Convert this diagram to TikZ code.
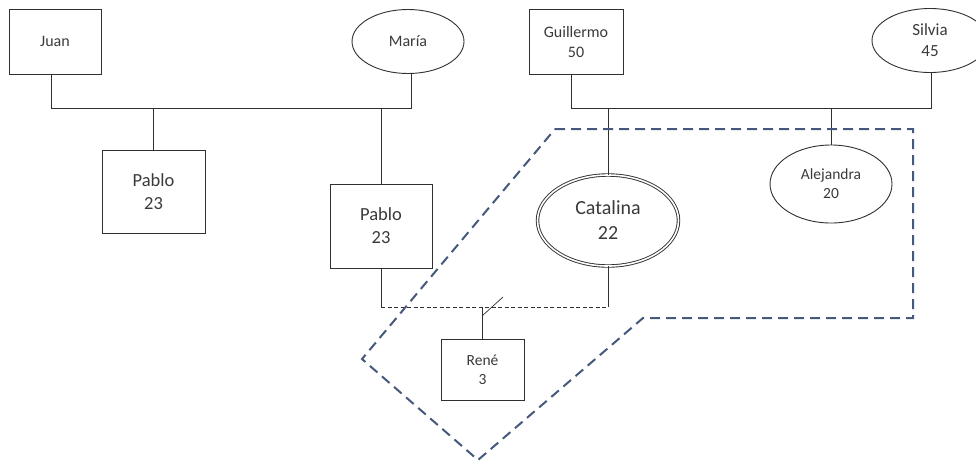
\documentclass[tikz,border=0pt]{standalone}
\usepackage{fontspec}
\usetikzlibrary{shapes.geometric}
\setmainfont{Carlito}
\definecolor{inkline}{HTML}{303030}
\definecolor{inktext}{HTML}{3A3A3A}
\definecolor{groupblue}{HTML}{46597C}
\begin{document}
\begin{tikzpicture}[x=1pt,y=-1pt,
  every node/.style={text=inktext, align=center, inner sep=0pt},
  person/.style={draw=inkline, line width=0.9pt, rectangle},
  woman/.style={draw=inkline, line width=0.9pt, ellipse},
  kin/.style={draw=inkline, line width=0.9pt},
  union/.style={draw=inkline, line width=0.9pt, dash pattern=on 4pt off 2.5pt},
  groupline/.style={draw=groupblue, line width=2pt, dash pattern=on 10pt off 6pt},
  fs/.style n args={2}{font=\fontsize{#1}{#2}\selectfont}
]
\useasboundingbox (0,0) rectangle (976,464);
\fill[white] (0,0) rectangle (976,464);

% generation 1
\node[person, minimum width=92pt, minimum height=65pt, fs={16}{20}] (juan) at (55,41.5) {Juan};
\node[woman, minimum width=112pt, minimum height=64pt, fs={16}{20}] (maria) at (408,41.5) {María};
\node[person, minimum width=94pt, minimum height=65pt, fs={16}{20}] (guillermo) at (576,41.5) {Guillermo\\50};
\node[woman, minimum width=116pt, minimum height=64pt, fs={17}{21}] (silvia) at (930,40.5) {Silvia\\45};

% generation 2
\node[person, minimum width=103pt, minimum height=83pt, fs={18.5}{23}] (pablo1) at (153.5,191.5) {Pablo\\23};
\node[person, minimum width=102pt, minimum height=84pt, fs={18.5}{23}] (pablo2) at (381,226) {Pablo\\23};
\node[woman, double, double distance=1.6pt, minimum width=141pt, minimum height=91pt, fs={20}{25}] (catalina) at (608,220.5) {Catalina\\22};
\node[woman, minimum width=122pt, minimum height=78pt, fs={15.5}{19}] (alejandra) at (831,184) {Alejandra\\20};

% generation 3
\node[person, minimum width=83pt, minimum height=61pt, fs={15.5}{19}] (rene) at (482.5,369.5) {René\\3};

% couple lines
\coordinate (jmL) at (51,108);
\coordinate (jmR) at (411,108);
\coordinate (gsL) at (571,108);
\coordinate (gsR) at (931,108);
\draw[kin] (juan.south -| jmL) -- (jmL) -- (jmR) -- (maria.south -| jmR);
\draw[kin] (guillermo.south -| gsL) -- (gsL) -- (gsR) -- (silvia.south -| gsR);

% children
\draw[kin] (pablo1.north) -- (pablo1.north |- jmL);
\draw[kin] (pablo2.north) -- (pablo2.north |- jmL);
\draw[kin] (catalina.north) -- (catalina.north |- gsL);
\draw[kin] (alejandra.north) -- (alejandra.north |- gsL);

% Pablo and Catalina, separated
\coordinate (pcL) at (381,307);
\coordinate (pcR) at (608,307);
\draw[kin] (pablo2.south) -- (pcL);
\draw[kin] (catalina.south) -- (pcR);
\draw[union] (pcL) -- (pcR);
\draw[kin] (rene.north) -- (rene.north |- pcL);
\coordinate (cutA) at (482,316);
\coordinate (cutB) at (503,297);
\draw[kin, line width=0.7pt] (cutA) -- (cutB);

% household boundary
\draw[groupline] (555,129) -- (913,129) -- (913,318) -- (643,318)
  -- (478,460) -- (362,359) -- cycle;
\end{tikzpicture}
\end{document}
